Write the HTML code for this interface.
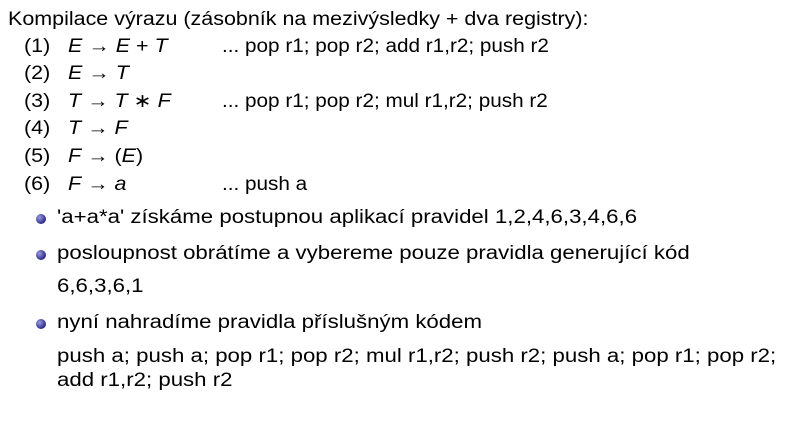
<!DOCTYPE html>
<html><head><meta charset="utf-8"><style>
body{margin:0;width:793px;height:429px;background:#fff;position:relative;overflow:hidden;font-family:"Liberation Sans","DejaVu Sans",sans-serif;font-size:19px;color:#000}
.t{position:absolute;white-space:nowrap;line-height:20px;transform:scaleX(1.13);transform-origin:0 50%}
.w{transform:scaleX(1.17)}
.c{transform:scaleX(1.09)}
i{font-style:italic}
.b{position:absolute;width:10px;height:10px;border-radius:50%;background:radial-gradient(circle at 35% 35%,#9a9ae0,#2a2a8a 70%)}
</style></head><body>
<div class="t" style="left:8px;top:10px">Kompilace výrazu (zásobník na mezivýsledky + dva registry):</div>
<div class="t" style="left:24px;top:37px">(1)</div><div class="t" style="left:68px;top:37px"><i>E</i> → <i>E</i> + <i>T</i></div><div class="t c" style="left:222px;top:37px">... pop r1; pop r2; add r1,r2; push r2</div>
<div class="t" style="left:24px;top:64px">(2)</div><div class="t" style="left:68px;top:64px"><i>E</i> → <i>T</i></div>
<div class="t" style="left:24px;top:92px">(3)</div><div class="t" style="left:68px;top:92px"><i>T</i> → <i>T</i> ∗ <i>F</i></div><div class="t c" style="left:222px;top:92px">... pop r1; pop r2; mul r1,r2; push r2</div>
<div class="t" style="left:24px;top:119px">(4)</div><div class="t" style="left:68px;top:119px"><i>T</i> → <i>F</i></div>
<div class="t" style="left:24px;top:147px">(5)</div><div class="t" style="left:68px;top:147px"><i>F</i> → (<i>E</i>)</div>
<div class="t" style="left:24px;top:175px">(6)</div><div class="t" style="left:68px;top:175px"><i>F</i> → <i>a</i></div><div class="t c" style="left:222px;top:175px">... push a</div>
<div class="b" style="left:36px;top:214px"></div><div class="t w" style="left:57px;top:208px">'a+a*a' získáme postupnou aplikací pravidel 1,2,4,6,3,4,6,6</div>
<div class="b" style="left:36px;top:250px"></div><div class="t w" style="left:57px;top:244px">posloupnost obrátíme a vybereme pouze pravidla generující kód</div>
<div class="t w" style="left:57px;top:277px">6,6,3,6,1</div>
<div class="b" style="left:36px;top:319px"></div><div class="t w" style="left:57px;top:313px">nyní nahradíme pravidla příslušným kódem</div>
<div class="t w" style="left:57px;top:347px">push a; push a; pop r1; pop r2; mul r1,r2; push r2; push a; pop r1; pop r2;</div>
<div class="t w" style="left:57px;top:371px">add r1,r2; push r2</div>
</body></html>
